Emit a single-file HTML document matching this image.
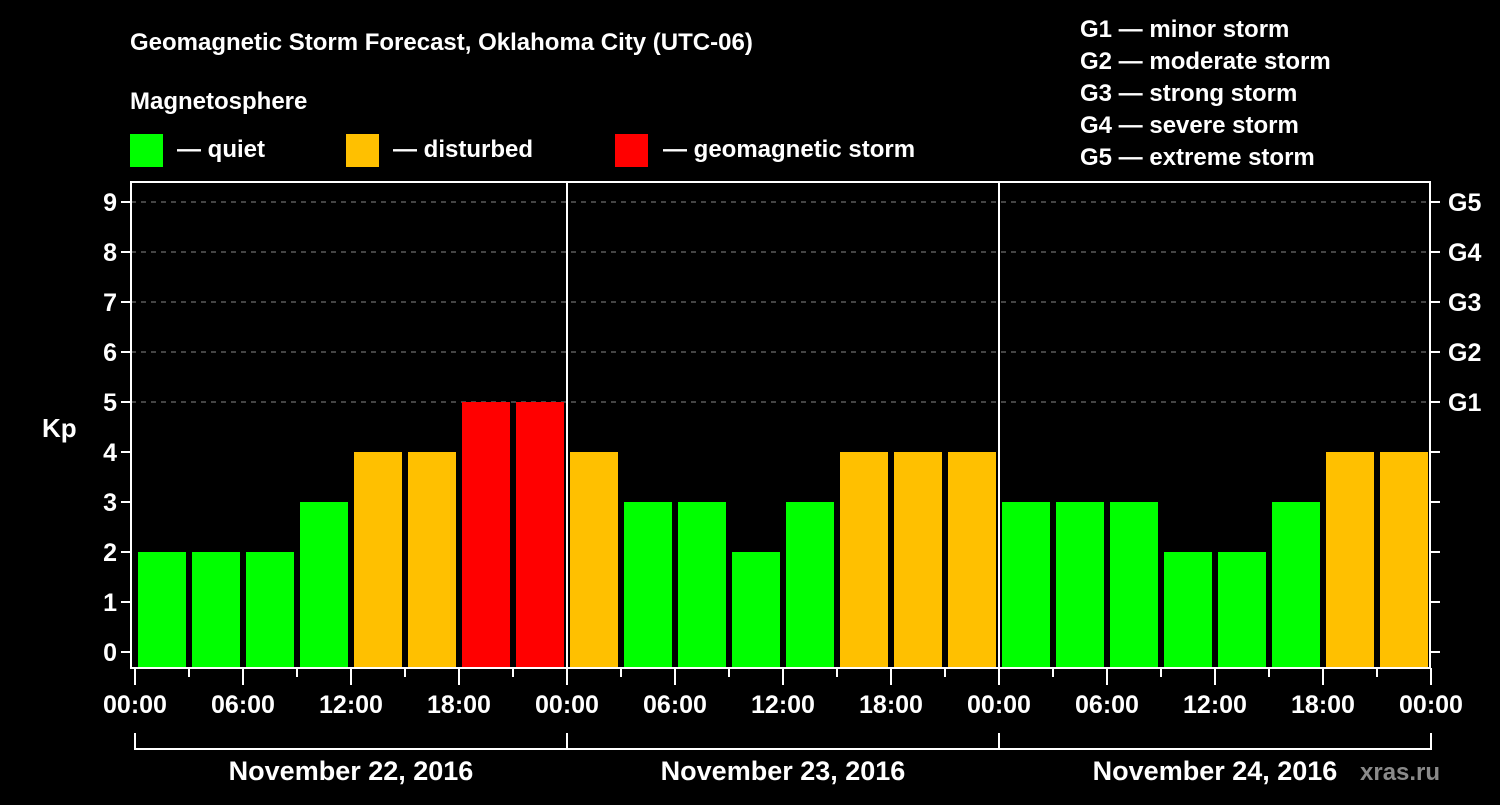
<!DOCTYPE html>
<html><head><meta charset="utf-8"><style>
body{margin:0;background:#000;width:1500px;height:800px;overflow:hidden}
svg text{font-family:"Liberation Sans",Arial,sans-serif;font-weight:bold;fill:#fff}
</style></head><body>
<svg id="c" width="1500" height="800">
<text x="130" y="50" font-size="24">Geomagnetic Storm Forecast, Oklahoma City (UTC-06)</text>
<text x="130" y="109" font-size="24">Magnetosphere</text>
<rect x="130" y="134" width="33" height="33" fill="#00ff00"/>
<text x="177" y="157" font-size="24">— quiet</text>
<rect x="346" y="134" width="33" height="33" fill="#ffc000"/>
<text x="393" y="157" font-size="24">— disturbed</text>
<rect x="615" y="134" width="33" height="33" fill="#ff0000"/>
<text x="663" y="157" font-size="24">— geomagnetic storm</text>
<g font-size="24">
<text x="1080" y="37">G1 — minor storm</text>
<text x="1080" y="69">G2 — moderate storm</text>
<text x="1080" y="101">G3 — strong storm</text>
<text x="1080" y="133">G4 — severe storm</text>
<text x="1080" y="165">G5 — extreme storm</text>
</g>
<text x="42" y="437" font-size="26">Kp</text>
<text x="1360" y="780" font-size="24" fill="#888" style="fill:#8a8a8a">xras.ru</text>
<g id="g"></g>
</svg>
<script>
const kpValues=[2,2,2,3,4,4,5,5, 4,3,3,2,3,4,4,4, 3,3,3,2,2,3,4,4];
const dayLabels=["November 22, 2016","November 23, 2016","November 24, 2016"];
const hourLabels=["00:00","06:00","12:00","18:00"];
const gLabels=["G1","G2","G3","G4","G5"];
const yTicks=[0,1,2,3,4,5,6,7,8,9];
const NS="http://www.w3.org/2000/svg",g=document.getElementById('g');
const X0=135,DAY=432,PL=131,PR=1430,PT=182,PB=668;
const x=h=>X0+h*DAY/24, y=v=>652-50*v;
function mk(t,a,txt){const e=document.createElementNS(NS,t);for(const k in a)e.setAttribute(k,a[k]);if(txt!=null)e.textContent=txt;g.appendChild(e);return e;}
yTicks.forEach(v=>{
 if(v>=5){const l=mk('line',{x1:PL,x2:PR,y1:y(v),y2:y(v),stroke:'#888','stroke-dasharray':'5,5'});
 
 }
 const t=mk('line',{x1:PL-10,x2:PL,y1:y(v),y2:y(v),stroke:'#fff','stroke-width':2});
 
 
 const r=mk('line',{x1:PR,x2:PR+10,y1:y(v),y2:y(v),stroke:'#fff','stroke-width':2});
 
 
 const tl=mk('text',{x:PL-14,y:y(v)+9,'font-size':25,'text-anchor':'end'},v);
 
 
});
gLabels.forEach((s,i)=>{const t=mk('text',{x:PR+18,y:y(5+i)+9,'font-size':25},s);
 
 });
kpValues.forEach((v,i)=>{
 const c=v>=5?'#ff0000':v>=4?'#ffc000':'#00ff00';
 const b=mk('rect',{x:x(i*3)+3,y:y(v),width:48,height:PB-y(v),fill:c});
 
 
});
const fr=mk('rect',{x:PL,y:PT,width:PR-PL,height:PB-PT,fill:'none',stroke:'#fff','stroke-width':2});


for(let d=1;d<dayLabels.length;d++){const l=mk('line',{x1:x(24*d),x2:x(24*d),y1:PT,y2:PB,stroke:'#fff','stroke-width':2});
 
 }
for(let h=0;h<=24*dayLabels.length;h+=3){
 const t=mk('line',{x1:x(h),x2:x(h),y1:PB,y2:PB+(h%6?9:17),stroke:'#fff','stroke-width':2});
 
 
 if(h%6===0){const l=mk('text',{x:x(h),y:713,'font-size':25,'text-anchor':'middle'},hourLabels[(h/6)%4]);
 
 }
}
dayLabels.forEach((s,d)=>{
 const p=mk('path',{d:`M${x(24*d)},733V749H${x(24*d+24)}V733`,stroke:'#fff','stroke-width':2,fill:'none'});
 
 
 const t=mk('text',{x:x(24*d+12),y:780,'font-size':27,'text-anchor':'middle'},s);
 
 
});
</script>
</body></html>
